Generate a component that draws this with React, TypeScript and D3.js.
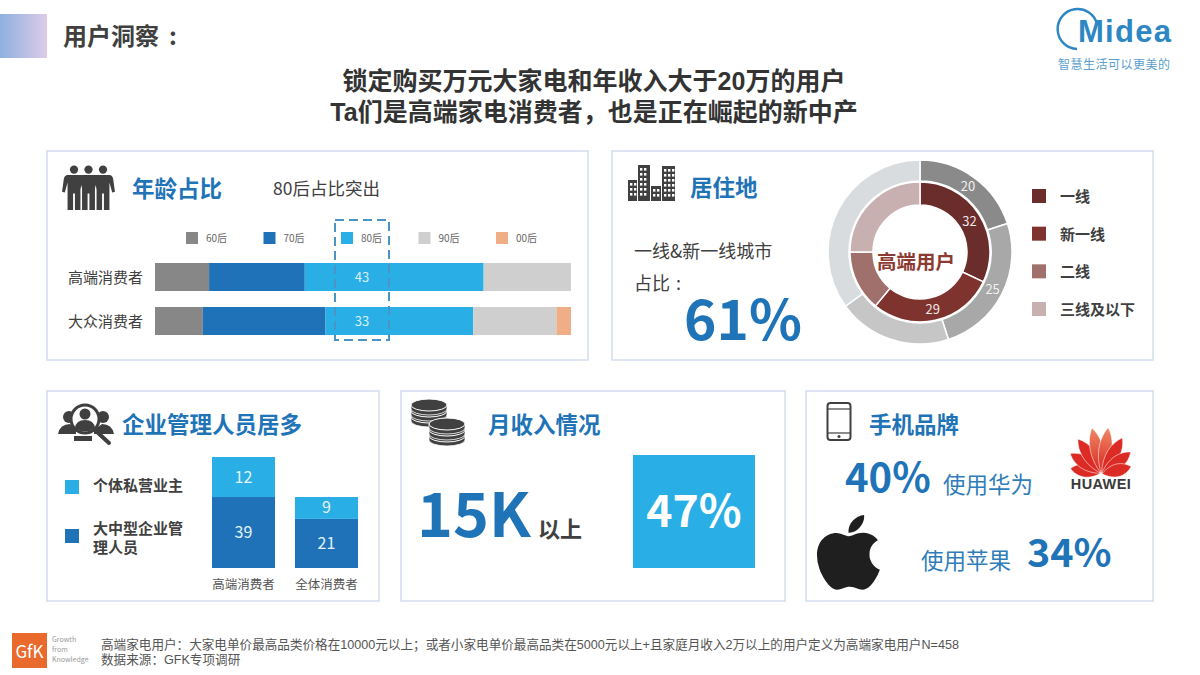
import * as d3 from 'd3';

// 年龄占比 (the lower bar is drawn wider than its printed 33, as in the source)
const AGE_KEYS = ['60后', '70后', '80后', '90后', '00后'];
const AGE_ROWS = ['高端消费者', '大众消费者'];
const AGE_HIGH = [13, 23, 43, 21, 0];
const AGE_MASS = [11.5, 29.5, 35.5, 20, 3.5];
const AGE_LABELS = ['43', '33'];
const AGE_COLORS = ['#878787', '#1f72b8', '#29aee6', '#cfcfcf', '#efae85'];

// 居住地
const CITY_KEYS = ['一线', '新一线', '二线', '三线及以下'];
const CITY_INNER = [32, 29, 14, 25];
const CITY_OUTER = [20, 25, 20, 35];
const INNER_COLORS = ['#6b2c2c', '#7f332e', '#a0706c', '#c9b0b0'];
const OUTER_COLORS = ['#8a8a8a', '#a8a8a8', '#c6c6c6', '#d9dcdf'];

// 企业管理人员: column heights in the source don't follow the printed numbers,
// so heights are read off the picture and the labels are kept apart
const JOB_ROWS = ['高端消费者', '全体消费者'];
const JOB_KEYS = ['大中型企业管理人员', '个体私营业主'];
const JOB_MANAGER = [39, 27];
const JOB_OWNER = [22, 12];
const JOB_MANAGER_LABELS = ['39', '21'];
const JOB_OWNER_LABELS = ['12', '9'];
const JOB_COLORS = ['#1f72b8', '#29aee6'];

const HUAWEI_ANGLES = [-78, -55, -32, -10, 10, 32, 55, 78];
const HUAWEI_LENGTHS = [31, 37, 42, 47, 47, 42, 37, 31];

const BLUE = '#1f74b8';
const DARK = '#404040';
const FONT = '"Noto Sans CJK SC", "Noto Sans", sans-serif';
// tight line pairs: Liberation first for its shorter line box, CJK glyphs still fall through
const TIGHT_FONT = '"Liberation Sans", "Noto Sans CJK SC", sans-serif';

const APPLE =
  'M318.7 268.7c-.2-36.7 16.4-64.4 50-84.8-18.8-26.9-47.2-41.7-84.7-44.6-35.5-2.8-74.3 20.7-88.5 20.7-15 0-49.4-19.7-76.4-19.7C63.3 141.2 4 184.8 4 273.5q0 39.3 14.4 81.2c12.8 36.7 59 126.7 107.2 125.2 25.2-.6 43-17.9 75.8-17.9 31.8 0 48.3 17.9 76.4 17.9 48.6-.7 90.4-82.5 102.6-119.3-65.2-30.7-61.7-90-61.7-91.9zm-56.6-164.2c27.3-32.4 24.8-61.9 24-72.5-24.1 1.4-52 16.4-67.9 34.9-17.5 19.8-27.8 44.3-25.6 71.9 26.1 2 49.9-11.4 69.5-34.3z';

function Card({ x, y, w, h }: { x: number; y: number; w: number; h: number }) {
  return <rect x={x} y={y} width={w} height={h} fill="#fff" stroke="#d3dcef" strokeWidth={1.5} />;
}

function Person({ x, y, s = 1 }: { x: number; y: number; s?: number }) {
  return (
    <g transform={`translate(${x},${y}) scale(${s})`} fill={DARK}>
      <circle cx={0} cy={-20} r={4.5} />
      <path d="M-7,-14 L7,-14 Q10,-14 11,-10 L13,4 L10,5 L7,-6 L7,24 L1,24 L1,6 L-1,6 L-1,24 L-7,24 L-7,-6 L-10,5 L-13,4 L-11,-10 Q-10,-14 -7,-14Z" />
    </g>
  );
}

function AgeChart() {
  const x = d3.scaleLinear().domain([0, 100]).range([155, 571]);
  const y = d3.scaleBand().domain(AGE_ROWS).range([263, 335]).paddingInner(0.364).paddingOuter(0);
  const rows = AGE_ROWS.map((row, r) => {
    const vals = r === 0 ? AGE_HIGH : AGE_MASS;
    return Object.fromEntries([['row', row], ...AGE_KEYS.map((k, i) => [k, vals[i]])]);
  });
  const stacked = d3.stack<any>().keys(AGE_KEYS)(rows);
  const legendX = d3.scalePoint().domain(AGE_KEYS).range([186, 496]);
  return (
    <g fontFamily={FONT}>
      {AGE_KEYS.map((k, i) => (
        <g key={k}>
          <rect x={legendX(k)} y={232} width={12} height={12} fill={AGE_COLORS[i]} />
          <text x={legendX(k)! + 20} y={242} fontSize={10} fill="#666">{k}</text>
        </g>
      ))}
      {stacked.map((s, i) =>
        s.map((d, r) => (
          <rect key={`${i}-${r}`} x={x(d[0])} y={y(AGE_ROWS[r])} width={x(d[1]) - x(d[0])} height={y.bandwidth()} fill={AGE_COLORS[i]} />
        )),
      )}
      {AGE_ROWS.map((row, r) => (
        <g key={row}>
          <text x={143} y={y(row)! + y.bandwidth() / 2 + 6} textAnchor="end" fontSize={15} fill={DARK}>{row}</text>
          <text x={362} y={y(row)! + y.bandwidth() / 2 + 5} textAnchor="middle" fontSize={13} fill="#d8f0fb">{AGE_LABELS[r]}</text>
        </g>
      ))}
      <rect x={335} y={220} width={54} height={120} fill="none" stroke="#4a94c6" strokeWidth={2} strokeDasharray="9 5" />
    </g>
  );
}

function CityDonut() {
  const cx = 920;
  const cy = 252;
  const pie = d3.pie<number>().sort(null).value(d => d);
  const inner = d3.arc<d3.PieArcDatum<number>>().innerRadius(47).outerRadius(70);
  const outer = d3.arc<d3.PieArcDatum<number>>().innerRadius(71).outerRadius(92);
  const legendY = d3.scalePoint().domain(CITY_KEYS).range([197, 310]);
  return (
    <g fontFamily={FONT}>
      <g transform={`translate(${cx},${cy})`}>
        {pie(CITY_OUTER).map((d, i) => (
          <path key={i} d={outer(d)!} fill={OUTER_COLORS[i]} stroke="#fff" strokeWidth={1.5} />
        ))}
        {pie(CITY_INNER).map((d, i) => (
          <path key={i} d={inner(d)!} fill={INNER_COLORS[i]} stroke="#fff" strokeWidth={1.5} />
        ))}
        {pie(CITY_OUTER).slice(0, 2).map((d, i) => {
          const [px, py] = outer.centroid(d);
          return <text key={i} x={px} y={py + 5} textAnchor="middle" fontSize={13} fill="#f2f2f2">{d.value}</text>;
        })}
        {pie(CITY_INNER).slice(0, 2).map((d, i) => {
          const [px, py] = inner.centroid(d);
          return <text key={i} x={px} y={py + 5} textAnchor="middle" fontSize={13} fill="#f2e6e6">{d.value}</text>;
        })}
        <text x={-4} y={17} textAnchor="middle" fontSize={19.5} fontWeight={700} fill="#8c3b33">高端用户</text>
      </g>
      {CITY_KEYS.map((k, i) => (
        <g key={k}>
          <rect x={1032} y={legendY(k)! - 8} width={14} height={14} fill={INNER_COLORS[i]} />
          <text x={1060} y={legendY(k)! + 5} fontSize={15} fontWeight={700} fill={DARK}>{k}</text>
        </g>
      ))}
    </g>
  );
}

function JobChart() {
  const x = d3.scaleBand().domain(JOB_ROWS).range([212, 358]).paddingInner(0.241).paddingOuter(0);
  const y = d3.scaleLinear().domain([0, 61]).range([568, 457]);
  const rows = JOB_ROWS.map((row, i) => ({ row, [JOB_KEYS[0]]: JOB_MANAGER[i], [JOB_KEYS[1]]: JOB_OWNER[i] }));
  const stacked = d3.stack<any>().keys(JOB_KEYS)(rows);
  const labels = [JOB_MANAGER_LABELS, JOB_OWNER_LABELS];
  return (
    <g fontFamily={FONT}>
      {stacked.map((s, k) =>
        s.map((d, i) => (
          <g key={`${k}-${i}`}>
            <rect x={x(JOB_ROWS[i])} y={y(d[1])} width={x.bandwidth()} height={y(d[0]) - y(d[1])} fill={JOB_COLORS[k]} />
            <text x={x(JOB_ROWS[i])! + x.bandwidth() / 2} y={(y(d[0]) + y(d[1])) / 2 + 5.5} textAnchor="middle" fontSize={16} fill="#e3f3fb">
              {labels[k][i]}
            </text>
          </g>
        )),
      )}
      {JOB_ROWS.map(row => (
        <text key={row} x={x(row)! + x.bandwidth() / 2} y={589} textAnchor="middle" fontSize={12.5} fill="#555">{row}</text>
      ))}
      <rect x={65} y={480} width={14} height={14} fill={JOB_COLORS[1]} />
      <rect x={65} y={529} width={14} height={14} fill={JOB_COLORS[0]} />
      <text fontSize={15} fontWeight={700} fill={DARK}>
        <tspan x={93} y={491}>个体私营业主</tspan>
        <tspan x={93} y={534}>大中型企业管</tspan>
        <tspan x={93} y={553}>理人员</tspan>
      </text>
    </g>
  );
}

function Buildings() {
  const blocks = [
    { x: 628, y: 180, w: 9, h: 21 },
    { x: 638, y: 165, w: 12, h: 36 },
    { x: 651, y: 186, w: 10, h: 15 },
    { x: 662, y: 166, w: 13, h: 35 },
  ];
  return (
    <g>
      {blocks.map((b, i) => (
        <g key={i}>
          <rect x={b.x} y={b.y} width={b.w} height={b.h} fill={DARK} />
          {d3.range(b.y + 3, b.y + b.h - 3, 5).flatMap(wy =>
            d3.range(b.x + 2, b.x + b.w - 2, 4).map(wx => (
              <rect key={`${wx}-${wy}`} x={wx} y={wy} width={2.4} height={2.6} fill="#fff" />
            )),
          )}
        </g>
      ))}
    </g>
  );
}

function SearchPeople() {
  return (
    <g>
      <circle cx={69} cy={417} r={6} fill={DARK} />
      <circle cx={103} cy={417} r={6} fill={DARK} />
      <path d="M58,434 Q60,424 70,424 L76,430 L76,434Z M114,434 Q112,424 102,424 L94,430 L94,434Z" fill={DARK} />
      <circle cx={85} cy={419} r={14} fill="#fff" stroke={DARK} strokeWidth={3} />
      <circle cx={85} cy={414} r={5.5} fill={DARK} />
      <path d="M75,428 Q76,420 85,420 Q94,420 95,428 Q85,435 75,428Z" fill={DARK} />
      <path d="M74,436 L92,436 L92,441 L74,441Z" fill={DARK} />
      <line x1={96} y1={431} x2={109} y2={443} stroke={DARK} strokeWidth={4} strokeLinecap="round" />
    </g>
  );
}

function Coins() {
  const stacks = [
    { cx: 429, ys: [405, 411, 417] },
    { cx: 447, ys: [424, 430, 436] },
  ];
  return (
    <g>
      {stacks.map(s =>
        s.ys.slice().reverse().map(y => (
          <g key={`${s.cx}-${y}`}>
            <path d={`M${s.cx - 18},${y} L${s.cx - 18},${y + 4} A18,6 0 0 0 ${s.cx + 18},${y + 4} L${s.cx + 18},${y}Z`} fill={DARK} stroke="#fff" strokeWidth={0.8} />
            <ellipse cx={s.cx} cy={y} rx={18} ry={6} fill={DARK} stroke="#fff" strokeWidth={1} />
          </g>
        )),
      )}
    </g>
  );
}

function Huawei() {
  const cx = 1101;
  const cy = 474;
  return (
    <g>
      <defs>
        <linearGradient id="hw" x1="0" y1="0" x2="0" y2="1">
          <stop offset="0%" stopColor="#ee8a68" />
          <stop offset="100%" stopColor="#d9241f" />
        </linearGradient>
      </defs>
      {HUAWEI_ANGLES.map((a, i) => {
        const l = HUAWEI_LENGTHS[i];
        return (
          <path
            key={a}
            transform={`translate(${cx},${cy}) rotate(${a})`}
            d={`M0,-1 C-9,${-l * 0.4} -8,${-l * 0.75} -1,${-l} C8,${-l * 0.75} 9,${-l * 0.4} 0,-1Z`}
            fill={Math.abs(a) === 10 ? 'url(#hw)' : '#dc2a25'}
            stroke="#fff"
            strokeWidth={0.5}
          />
        );
      })}
      <text x={cx} y={489} textAnchor="middle" fontFamily="Liberation Sans" fontWeight={700} fontSize={14.5} letterSpacing={0.4} fill="#3a3a3a">HUAWEI</text>
    </g>
  );
}

export default function App() {
  return (
    <svg width={1200} height={675} viewBox="0 0 1200 675" style={{ position: 'absolute', left: 0, top: 0, display: 'block', background: '#fff' }}>
      <defs>
        <linearGradient id="tab" x1="0" y1="0" x2="1" y2="0">
          <stop offset="0%" stopColor="#8fb0e0" />
          <stop offset="100%" stopColor="#dccbe8" />
        </linearGradient>
      </defs>
      <g fontFamily={FONT}>
        <rect x={0} y={14} width={47} height={44} fill="url(#tab)" />
        <text x={63} y={45} fontSize={24} fontWeight={700} fill={DARK}>用户洞察<tspan dx={10}>:</tspan></text>
        <text fontFamily={TIGHT_FONT} fontSize={25} fontWeight={700} fill="#333" textAnchor="middle">
          <tspan x={594} y={90}>锁定购买万元大家电和年收入大于20万的用户</tspan>
          <tspan x={594} y={121}>Ta们是高端家电消费者，也是正在崛起的新中产</tspan>
        </text>

        {/* Midea logo */}
        <path d="M1077,49 A20,20 0 1 1 1097,24" fill="none" stroke="#2c87c4" strokeWidth={2.5} />
        <text x={1078} y={42} fontFamily="Liberation Sans" fontWeight={700} fontSize={31} textLength={93} fill="#2c87c4">Midea</text>
        <text x={1058} y={69} fontSize={12} letterSpacing={0.5} fill="#5ba0cc">智慧生活可以更美的</text>

        <Card x={47} y={151} w={541} h={209} />
        <Card x={612} y={151} w={541} h={209} />
        <Card x={47} y={391} w={332} h={210} />
        <Card x={401} y={391} w={384} h={210} />
        <Card x={806} y={391} w={347} h={210} />

        {/* 年龄占比 */}
        <Person x={74} y={188} s={0.92} />
        <Person x={103} y={188} s={0.92} />
        <Person x={88.5} y={188} s={0.92} />
        <text x={132} y={197} fontSize={22.5} fontWeight={700} fill={BLUE}>年龄占比</text>
        <text x={273} y={195} fontSize={17.5} fill={DARK}>80后占比突出</text>

        {/* 居住地 */}
        <Buildings />
        <text x={690} y={196} fontSize={22.5} fontWeight={700} fill={BLUE}>居住地</text>
        <text fontSize={18} fill={DARK}>
          <tspan x={634} y={258}>一线&amp;新一线城市</tspan>
          <tspan x={634} y={290}>占比<tspan dx={6}>:</tspan></tspan>
        </text>
        <text x={684} y={340} fontSize={55} fontWeight={700} fill={BLUE}>61%</text>

        {/* 企业管理人员 */}
        <SearchPeople />
        <text x={122} y={433} fontSize={22.5} fontWeight={700} fill={BLUE}>企业管理人员居多</text>

        {/* 月收入 */}
        <Coins />
        <text x={488} y={433} fontSize={22.5} fontWeight={700} fill={BLUE}>月收入情况</text>
        <text x={417} y={537} fontSize={61} fontWeight={700} fill={BLUE}>15K</text>
        <text x={538} y={537} fontSize={22} fontWeight={700} fill={DARK}>以上</text>
        <rect x={633} y={455} width={122} height={113} fill="#29aee6" />
        <text x={694} y={527} textAnchor="middle" fontSize={44.5} fontWeight={700} fill="#fff">47%</text>

        {/* 手机品牌 */}
        <rect x={827.5} y={403} width={23} height={37} rx={3} fill="none" stroke={DARK} strokeWidth={2} />
        <line x1={828} y1={409} x2={850} y2={409} stroke={DARK} strokeWidth={1.2} />
        <line x1={828} y1={433} x2={850} y2={433} stroke={DARK} strokeWidth={1.2} />
        <circle cx={839} cy={436.5} r={1.5} fill={DARK} />
        <text x={869} y={433} fontSize={22.5} fontWeight={700} fill={BLUE}>手机品牌</text>
        <text x={845} y={492} fontSize={40} fontWeight={700} fill={BLUE}>40%</text>
        <text x={943} y={493} fontSize={22.5} fill="#2f7dbb">使用华为</text>
        <text x={921} y={569} fontSize={22.5} fill="#2f7dbb">使用苹果</text>
        <text x={1027} y={567} fontSize={39.5} fontWeight={700} fill={BLUE}>34%</text>
        <Huawei />
        <path d={APPLE} transform="translate(816.3,509.6) scale(0.167)" fill="#1f1f1f" />

        {/* footer */}
        <rect x={12} y={633} width={35} height={35} fill="#ea6a2e" />
        <text x={29.5} y={658} textAnchor="middle" fontSize={17} fill="#fff">GfK</text>
        <text fontSize={7} fill="#999">
          <tspan x={52} y={642}>Growth</tspan>
          <tspan x={52} y={652}>from</tspan>
          <tspan x={52} y={662}>Knowledge</tspan>
        </text>
        <text fontFamily={TIGHT_FONT} fontSize={12.6} fill="#555">
          <tspan x={101} y={649}>高端家电用户：大家电单价最高品类价格在10000元以上；或者小家电单价最高品类在5000元以上+且家庭月收入2万以上的用户定义为高端家电用户N=458</tspan>
          <tspan x={101} y={664}>数据来源：GFK专项调研</tspan>
        </text>
      </g>
      <AgeChart />
      <CityDonut />
      <JobChart />
    </svg>
  );
}
